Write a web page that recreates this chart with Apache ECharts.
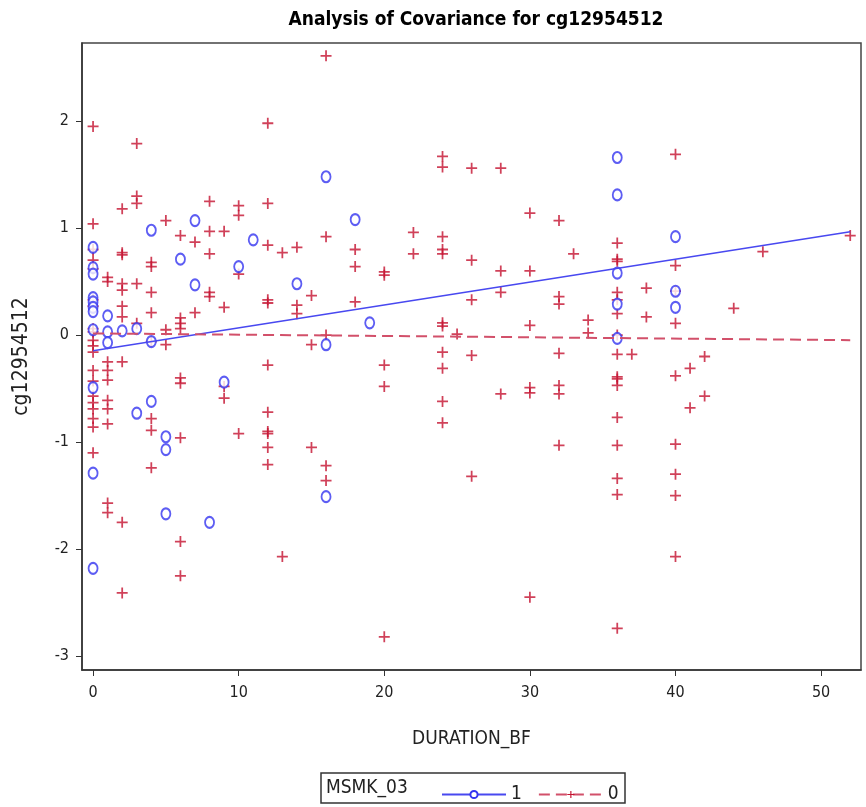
<!DOCTYPE html>
<html>
<head>
<meta charset="utf-8">
<script src="https://cdn.jsdelivr.net/npm/echarts@6/dist/echarts.min.js"></script>
<style>
  html, body { margin: 0; padding: 0; background: #fff; }
  #AncovaChart { width: 866px; height: 807px; }
</style>
</head>
<body>
<div id="AncovaChart"></div>
<script>
// MSMK_03 = 1, [DURATION_BF, cg12954512]
const smk1Points = [
  [0, 0.82], [0, 0.63], [0, 0.57], [0, 0.35], [0, 0.31], [0, 0.26], [0, 0.22], [0, 0.05], [0, -0.49], [0, -1.29], [0, -2.18],
  [1, 0.18], [1, 0.03], [1, -0.07],
  [2, 0.04],
  [3, 0.06], [3, -0.73],
  [4, 0.98], [4, -0.06], [4, -0.62],
  [5, -0.95], [5, -1.07], [5, -1.67],
  [6, 0.71],
  [7, 1.07], [7, 0.47],
  [8, -1.75],
  [9, -0.44],
  [10, 0.64],
  [11, 0.89],
  [14, 0.48],
  [16, 1.48], [16, -0.09], [16, -1.51],
  [18, 1.08],
  [19, 0.115],
  [36, 1.66], [36, 1.31], [36, 0.58], [36, 0.29], [36, -0.03],
  [40, 0.92], [40, 0.41], [40, 0.26]
];

// MSMK_03 = 0
const smk0Points = [
  [0, 1.95], [0, 1.04], [0, 0.80], [0, 0.70], [0, 0.62], [0, 0.33], [0, 0.27], [0, 0.06], [0, 0.03], [0, -0.05],
  [0, -0.10], [0, -0.16], [0, -0.33], [0, -0.43], [0, -0.57], [0, -0.63], [0, -0.69], [0, -0.78], [0, -0.86], [0, -1.10],
  [1, 0.54], [1, 0.50], [1, -0.25], [1, -0.33], [1, -0.42], [1, -0.61], [1, -0.69], [1, -0.83], [1, -1.57], [1, -1.66],
  [2, 1.18], [2, 0.77], [2, 0.75], [2, 0.48], [2, 0.42], [2, 0.27], [2, 0.17], [2, -0.25], [2, -1.75], [2, -2.41],
  [3, 1.79], [3, 1.30], [3, 1.23], [3, 0.48], [3, 0.11],
  [4, 0.68], [4, 0.64], [4, 0.40], [4, 0.21], [4, -0.06], [4, -0.78], [4, -0.89], [4, -1.24],
  [5, 1.07], [5, 0.05], [5, -0.09],
  [6, 0.93], [6, 0.16], [6, 0.11], [6, 0.06], [6, -0.40], [6, -0.45], [6, -0.96], [6, -1.93], [6, -2.25],
  [7, 0.87], [7, 0.21],
  [8, 1.25], [8, 0.97], [8, 0.76], [8, 0.40], [8, 0.36],
  [9, 0.97], [9, 0.26], [9, -0.48], [9, -0.59],
  [10, 1.21], [10, 1.12], [10, 0.57], [10, -0.92],
  [12, 1.98], [12, 1.23], [12, 0.84], [12, 0.33], [12, 0.30], [12, -0.28], [12, -0.72], [12, -0.90], [12, -0.92], [12, -1.05], [12, -1.21],
  [13, 0.77], [13, -2.07],
  [14, 0.82], [14, 0.28], [14, 0.20],
  [15, 0.37], [15, -0.09], [15, -1.05],
  [16, 2.61], [16, 0.92], [16, 0.00], [16, -1.22], [16, -1.36],
  [18, 0.80], [18, 0.64], [18, 0.31],
  [20, 0.59], [20, 0.56], [20, -0.28], [20, -0.48], [20, -2.82],
  [22, 0.96], [22, 0.76],
  [24, 1.67], [24, 1.57], [24, 0.92], [24, 0.80], [24, 0.76], [24, 0.115], [24, 0.085], [24, -0.16], [24, -0.31], [24, -0.62], [24, -0.82],
  [25, 0.01],
  [26, 1.56], [26, 0.70], [26, 0.33], [26, -0.19], [26, -1.32],
  [28, 1.56], [28, 0.60], [28, 0.40], [28, -0.55],
  [30, 1.14], [30, 0.60], [30, 0.09], [30, -0.49], [30, -0.54], [30, -2.45],
  [32, 1.07], [32, 0.36], [32, 0.29], [32, -0.17], [32, -0.47], [32, -0.55], [32, -1.03],
  [33, 0.76],
  [34, 0.14], [34, 0.02],
  [36, 0.86], [36, 0.71], [36, 0.69], [36, 0.40], [36, 0.33], [36, 0.20], [36, 0.00], [36, -0.18], [36, -0.39], [36, -0.41],
  [36, -0.47], [36, -0.77], [36, -1.03], [36, -1.34], [36, -1.49], [36, -2.74],
  [37, -0.18],
  [38, 0.44], [38, 0.17],
  [40, 1.69], [40, 0.65], [40, 0.41], [40, 0.11], [40, -0.38], [40, -1.02], [40, -1.30], [40, -1.50], [40, -2.07],
  [41, -0.31], [41, -0.68],
  [42, -0.20], [42, -0.57],
  [44, 0.25],
  [46, 0.78],
  [52, 0.93]
];

// fitted lines (end points)
const fit1Line = [[0, -0.147], [52, 0.965]];
const fit0Line = [[0, 0.016], [52, -0.047]];

const xTicks = [0, 10, 20, 30, 40, 50];
const yTicks = [-3, -2, -1, 0, 1, 2];

const BLUE = "#3434f0";
const BLUE_LINE = "#4848f0";
const RED = "#c4122f";
const RED_LINE = "#d2506a";
const FONT = "'Liberation Sans Narrow', 'DejaVu Sans Condensed', 'Liberation Sans', sans-serif";
const PLUS = "path://M4.2,0H5.8V4.2H10V5.8H5.8V10H4.2V5.8H0V4.2H4.2Z";

const chart = echarts.init(document.getElementById("AncovaChart"));
const options = {
  animation: false,
  backgroundColor: "#fff",
  title: {
    text: "Analysis of Covariance for cg12954512",
    left: 471,
    textAlign: "center",
    top: 6,
    textStyle: { fontFamily: FONT, fontSize: 19, fontWeight: "bold", color: "#000" },
  },
  grid: {
    left: 82,
    right: 5,
    top: 43,
    bottom: 137,
    show: true,
    borderColor: "#444",
    borderWidth: 1.5,
  },
  xAxis: {
    type: "value",
    min: -0.76,
    max: 52.74,
    name: "DURATION_BF",
    nameLocation: "middle",
    nameGap: 60,
    nameTextStyle: { fontFamily: FONT, fontSize: 19, color: "#222" },
    splitLine: { show: false },
    axisLine: { onZero: false, lineStyle: { color: "#333", width: 1.5 } },
    axisTick: { customValues: xTicks, length: 6, lineStyle: { color: "#333" } },
    axisLabel: { customValues: xTicks, margin: 15, fontFamily: FONT, fontSize: 16, color: "#222" },
  },
  yAxis: {
    type: "value",
    min: -3.13,
    max: 2.73,
    name: "cg12954512",
    nameLocation: "middle",
    nameGap: 50,
    nameTextStyle: { fontFamily: FONT, fontSize: 21, color: "#222" },
    splitLine: { show: false },
    axisLine: { onZero: false, lineStyle: { color: "#333", width: 1.5 } },
    axisTick: { customValues: yTicks, length: 6, lineStyle: { color: "#333" } },
    axisLabel: { customValues: yTicks, margin: 13, fontFamily: FONT, fontSize: 16, color: "#222" },
  },
  legend: {
    data: ["1", "0"],
    left: 436,
    top: 780,
    itemWidth: 64,
    itemHeight: 9,
    itemGap: 16,
    textStyle: { fontFamily: FONT, fontSize: 19, color: "#222" },
  },
  graphic: [
    {
      type: "rect",
      shape: { x: 321, y: 773, width: 304, height: 30 },
      style: { fill: "none", stroke: "#333", lineWidth: 1.5 },
    },
    {
      type: "text",
      x: 326,
      y: 788,
      style: { text: "MSMK_03", fontFamily: FONT, fontSize: 19, fill: "#222", verticalAlign: "middle" },
    },
  ],
  series: [
    {
      name: "1",
      type: "line",
      data: fit1Line,
      showSymbol: false,
      symbol: "emptyCircle",
      itemStyle: { color: BLUE },
      lineStyle: { color: BLUE_LINE, width: 1.5 },
      z: 4,
    },
    {
      name: "0",
      type: "line",
      data: fit0Line,
      showSymbol: false,
      symbol: PLUS,
      itemStyle: { color: RED },
      lineStyle: { color: RED_LINE, width: 2, type: [11, 6] },
      z: 4,
    },
    {
      name: "1",
      type: "scatter",
      data: smk1Points,
      symbol: "emptyCircle",
      symbolSize: [9, 11],
      itemStyle: { color: BLUE, borderColor: BLUE, borderWidth: 1.6 },
      z: 3,
    },
    {
      name: "0",
      type: "scatter",
      data: smk0Points,
      symbol: PLUS,
      symbolSize: 11,
      itemStyle: { color: RED },
      z: 2,
    },
  ],
};
chart.setOption(options);
</script>
</body>
</html>
